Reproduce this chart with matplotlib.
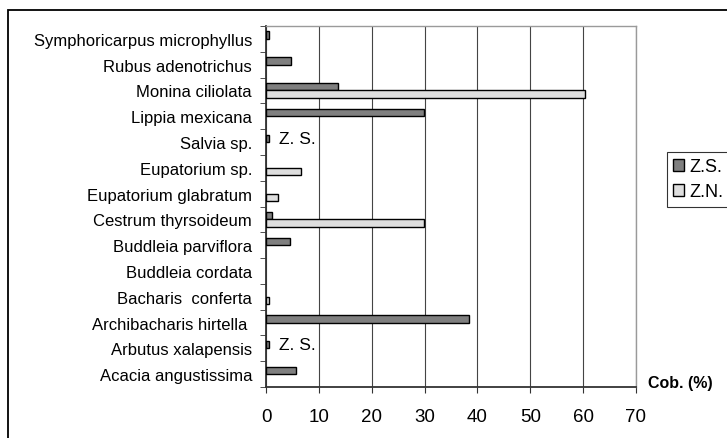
import numpy as np
import matplotlib.pyplot as plt
from matplotlib.patches import Rectangle

plt.rcParams['font.family'] = ['Liberation Sans', 'DejaVu Sans']

species = ["Symphoricarpus microphyllus", "Rubus adenotrichus", "Monina ciliolata",
           "Lippia mexicana", "Salvia sp.", "Eupatorium sp.", "Eupatorium glabratum",
           "Cestrum thyrsoideum", "Buddleia parviflora", "Buddleia cordata",
           "Bacharis  conferta", "Archibacharis hirtella ", "Arbutus xalapensis",
           "Acacia angustissima"]
zs = [0.5, 4.8, 13.7, 29.8, 0.5, 0, 0, 1.1, 4.6, 0, 0, 38.5, 0.5, 5.7]
zn = [0, 0, 60.3, 0, 0, 6.6, 2.3, 29.8, 0, 0, 0.5, 0, 0, 0]
notes = {"Salvia sp.": "Z. S.", "Arbutus xalapensis": "Z. S."}
xticks = [0, 10, 20, 30, 40, 50, 60, 70]

fig = plt.figure(figsize=(7.27, 4.39), dpi=100)
ax = fig.add_axes([266/727, 1-388/439, 370/727, 361/439])

y = np.arange(len(species))
h = 0.29
# no outline for empty bars (Excel does not draw them)
lw_zs = [1 if v > 0 else 0 for v in zs]
lw_zn = [1 if v > 0 else 0 for v in zn]
b1 = ax.barh(y - h/2, zs, height=h, color="#7f7f7f", edgecolor="black", linewidth=lw_zs, label="Z.S.", zorder=3)
b2 = ax.barh(y + h/2, zn, height=h, color="#dedede", edgecolor="black", linewidth=lw_zn, label="Z.N.", zorder=3)

for i, name in enumerate(species):
    if name in notes:
        ax.text(2.4, i - h/2, notes[name], fontsize=12.5, va="center", ha="left")

ax.set_xlim(0, 70)
ax.set_ylim(len(species) - 0.5, -0.5)
ax.set_xticks(xticks)
ax.set_yticks(y)
ax.set_yticklabels(species, fontsize=12)
ax.set_yticks(np.arange(len(species) + 1) - 0.5, minor=True)
ax.tick_params(axis="y", which="major", length=0, pad=10)
ax.tick_params(axis="y", which="minor", length=4, direction="out", color="#333333")
ax.tick_params(axis="x", length=4, direction="out", pad=11, labelsize=13.5, color="#333333")

ax.grid(axis="x", color="#444444", linewidth=0.8, zorder=0)
for s in ["left", "bottom"]:
    ax.spines[s].set_color("#333333")
    ax.spines[s].set_linewidth(1.3)
for s in ["top", "right"]:
    ax.spines[s].set_color("#9a9a9a")
    ax.spines[s].set_linewidth(1.0)

fig.text(648/727, 1-384/439, "Cob. (%)", fontsize=11.5, fontweight="bold", va="center", ha="left")

handles = [b1.patches[0], b2.patches[2]]
leg = fig.legend(handles=handles, labels=["Z.S.", "Z.N."], loc="upper left",
                 bbox_to_anchor=(667/727, 1-153/439),
                 fontsize=13, frameon=True, fancybox=False, edgecolor="black",
                 handlelength=0.6, handleheight=0.6, handletextpad=0.3,
                 borderpad=0.35, labelspacing=0.45, borderaxespad=0)
leg.get_frame().set_linewidth(0.8)

fig.patches.append(Rectangle((8/727, -0.1), 1.2, 1 - 11/439 + 0.1, transform=fig.transFigure,
                             fill=False, edgecolor="black", linewidth=1.3))

fig.savefig("out.png", dpi=100)
